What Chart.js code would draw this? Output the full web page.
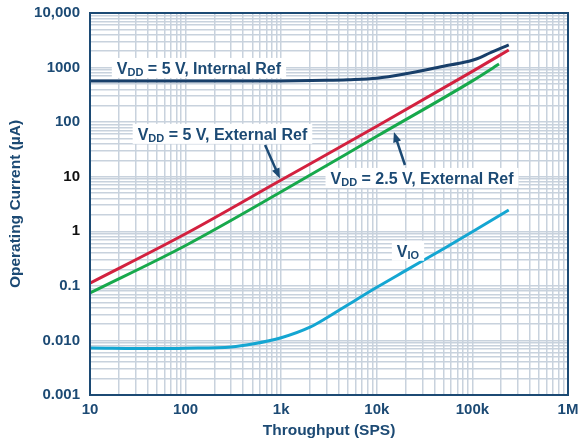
<!DOCTYPE html>
<html>
<head>
<meta charset="utf-8">
<script src="https://cdn.jsdelivr.net/npm/chart.js@4/dist/chart.umd.min.js"></script>
<style>
  html, body { margin: 0; padding: 0; background: #fff; }
</style>
</head>
<body>
<canvas id="correnteChart" width="581" height="438"></canvas>
<script>
// Throughput (SPS) sample points and operating current (µA) per supply config
const thrInternal = [10, 100, 1000, 3000, 5000, 10000, 20000, 50000, 80000, 100000, 120000, 150000, 240000];
const curInternal = [570, 565, 570, 585, 600, 640, 770, 1060, 1240, 1360, 1520, 1830, 2600];

const thrExt5 = [10, 100, 1000, 10000, 100000, 240000];
const curExt5 = [0.112, 0.9, 8.7, 84, 850, 2100];

const thrExt25 = [10, 100, 1000, 10000, 100000, 190000];
const curExt25 = [0.074, 0.55, 5.3, 55, 570, 1160];

const thrVio = [10, 50, 100, 300, 500, 1000, 2000, 3000, 5000, 10000, 20000, 50000, 100000, 240000];
const curVio = [0.0073, 0.0071, 0.0072, 0.0076, 0.0086, 0.0112, 0.0175, 0.026, 0.045, 0.094, 0.19, 0.48, 0.98, 2.45];

// Decade labels for the axes
const xDecades = [10, 100, 1000, 10000, 100000, 1000000];
const xDecadeLabels = ['10', '100', '1k', '10k', '100k', '1M'];
const yDecades = [0.001, 0.01, 0.1, 1, 10, 100, 1000, 10000];
const yDecadeLabels = ['0.001', '0.010', '0.1', '1', '10', '100', '1000', '10,000'];
const yBlackLabels = ['1', '10'];

const navy = '#1c4a74';
const gridColor = '#c8d2dd';
const fontFamily = '"Liberation Sans", Arial, Helvetica, sans-serif';

function toPoints(xs, ys) {
  return xs.map((x, i) => ({ x: x, y: ys[i] }));
}

// 1..9 x 10^n ticks between two decades
function logTicks(decades) {
  const ticks = [];
  for (let d = 0; d < decades.length - 1; d++) {
    for (let m = 1; m <= 9; m++) ticks.push({ value: decades[d] * m });
  }
  ticks.push({ value: decades[decades.length - 1] });
  return ticks;
}

function labelFor(value, decades, labels) {
  for (let i = 0; i < decades.length; i++) {
    if (Math.abs(value / decades[i] - 1) < 1e-6) return labels[i];
  }
  return '';
}

// Annotation tags: V + subscript + rest, anchored in data space
const tags = [
  { x: 138, y: 985, sub: 'DD', rest: ' = 5 V, Internal Ref' },
  { x: 243, y: 61, sub: 'DD', rest: ' = 5 V, External Ref' },
  { x: 29700, y: 9.5, sub: 'DD', rest: ' = 2.5 V, External Ref' },
  { x: 21200, y: 0.44, sub: 'IO', rest: '' }
];
const arrows = [
  { from: [678, 38], to: [970, 9.3] },
  { from: [19700, 16.4], to: [15100, 66] }
];

const annotacoes = {
  id: 'annotacoes',
  afterDatasetsDraw(chart) {
    const ctx = chart.ctx;
    const xs = chart.scales.x, ys = chart.scales.y;
    const big = 'bold 16px ' + fontFamily;
    const small = 'bold 11px ' + fontFamily;
    ctx.save();
    tags.forEach(t => {
      const cx = xs.getPixelForValue(t.x);
      const cy = ys.getPixelForValue(t.y);
      ctx.font = big;
      const w1 = ctx.measureText('V').width;
      const w3 = ctx.measureText(t.rest).width;
      ctx.font = small;
      const w2 = ctx.measureText(t.sub).width;
      const w = w1 + w2 + w3;
      const left = cx - w / 2;
      ctx.fillStyle = '#fff';
      ctx.fillRect(left - 5, cy - 10, w + 10, 20);
      ctx.fillStyle = navy;
      ctx.textBaseline = 'alphabetic';
      ctx.textAlign = 'left';
      ctx.font = big;
      ctx.fillText('V', left, cy + 6);
      ctx.font = small;
      ctx.fillText(t.sub, left + w1, cy + 8.5);
      ctx.font = big;
      ctx.fillText(t.rest, left + w1 + w2, cy + 6);
    });
    arrows.forEach(a => {
      const x0 = xs.getPixelForValue(a.from[0]), y0 = ys.getPixelForValue(a.from[1]);
      const x1 = xs.getPixelForValue(a.to[0]), y1 = ys.getPixelForValue(a.to[1]);
      const ang = Math.atan2(y1 - y0, x1 - x0);
      const head = 11;
      ctx.strokeStyle = navy;
      ctx.lineWidth = 2.5;
      ctx.beginPath();
      ctx.moveTo(x0, y0);
      ctx.lineTo(x1 - Math.cos(ang) * head * 0.8, y1 - Math.sin(ang) * head * 0.8);
      ctx.stroke();
      ctx.fillStyle = navy;
      ctx.beginPath();
      ctx.moveTo(x1, y1);
      ctx.lineTo(x1 - head * Math.cos(ang - 0.38), y1 - head * Math.sin(ang - 0.38));
      ctx.lineTo(x1 - head * Math.cos(ang + 0.38), y1 - head * Math.sin(ang + 0.38));
      ctx.closePath();
      ctx.fill();
    });
    ctx.restore();
  },
  afterDraw(chart) {
    const a = chart.chartArea;
    const ctx = chart.ctx;
    ctx.save();
    ctx.strokeStyle = navy;
    ctx.lineWidth = 2;
    ctx.strokeRect(a.left, a.top, a.right - a.left, a.bottom - a.top);
    ctx.restore();
  }
};

function serie(xs, ys, color) {
  return {
    data: toPoints(xs, ys),
    borderColor: color,
    borderWidth: 3,
    pointRadius: 0,
    fill: false,
    cubicInterpolationMode: 'monotone'
  };
}

const ctx = document.getElementById('correnteChart').getContext('2d');
new Chart(ctx, {
  type: 'line',
  data: {
    datasets: [
      serie(thrVio, curVio, '#14a6d2'),
      serie(thrExt25, curExt25, '#17a94c'),
      serie(thrExt5, curExt5, '#d3213f'),
      serie(thrInternal, curInternal, '#183f6a')
    ]
  },
  options: {
    responsive: false,
    animation: false,
    layout: { padding: { top: 13, right: 13, left: 0, bottom: 0 } },
    plugins: {
      legend: { display: false },
      tooltip: { enabled: false }
    },
    scales: {
      x: {
        type: 'logarithmic',
        min: 10,
        max: 1000000,
        afterBuildTicks: s => { s.ticks = logTicks(xDecades); },
        afterFit: s => { s.height = 43; s.paddingLeft = 0; s.paddingRight = 0; },
        grid: { color: gridColor, lineWidth: 1.5, drawTicks: false },
        border: { color: navy, width: 2 },
        ticks: {
          autoSkip: false,
          maxRotation: 0,
          padding: 6,
          color: navy,
          font: { family: fontFamily, size: 15, weight: 'bold' },
          callback: v => labelFor(v, xDecades, xDecadeLabels)
        },
        title: {
          display: true,
          text: 'Throughput (SPS)',
          color: navy,
          padding: { top: 0, bottom: 0 },
          font: { family: fontFamily, size: 15.5, weight: 'bold', lineHeight: 1 }
        }
      },
      y: {
        type: 'logarithmic',
        min: 0.001,
        max: 10000,
        afterBuildTicks: s => { s.ticks = logTicks(yDecades); },
        afterFit: s => { s.width = 90; s.paddingTop = 0; s.paddingBottom = 0; },
        grid: { color: gridColor, lineWidth: 1.5, drawTicks: false },
        border: { color: navy, width: 2 },
        ticks: {
          autoSkip: false,
          padding: 10,
          color: c => yBlackLabels.includes(labelFor(c.tick.value, yDecades, yDecadeLabels)) ? '#111' : navy,
          font: { family: fontFamily, size: 15, weight: 'bold' },
          callback: v => labelFor(v, yDecades, yDecadeLabels)
        },
        title: {
          display: true,
          text: 'Operating Current (µA)',
          color: navy,
          padding: { top: 8, bottom: 0 },
          font: { family: fontFamily, size: 15.5, weight: 'bold', lineHeight: 1 }
        }
      }
    }
  },
  plugins: [annotacoes]
});
</script>
</body>
</html>
